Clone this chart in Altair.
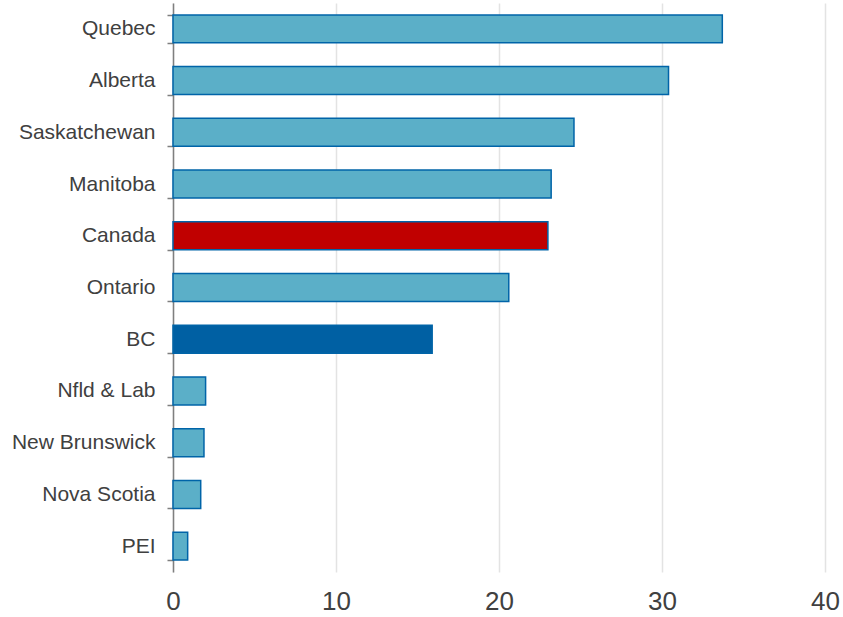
import altair as alt
import pandas as pd

regions = ["Quebec", "Alberta", "Saskatchewan", "Manitoba", "Canada", "Ontario",
           "BC", "Nfld & Lab", "New Brunswick", "Nova Scotia", "PEI"]
values = [33.7, 30.4, 24.6, 23.2, 23.0, 20.6, 15.9, 2.0, 1.9, 1.7, 0.9]
fills = ["#5BAFC8", "#5BAFC8", "#5BAFC8", "#5BAFC8", "#C00000", "#5BAFC8",
         "#0060A3", "#5BAFC8", "#5BAFC8", "#5BAFC8", "#5BAFC8"]
x_ticks = [0, 10, 20, 30, 40]

df = pd.DataFrame({"region": regions, "value": values, "fill": fills})

chart = alt.Chart(df).mark_bar(stroke="#0064A8", strokeWidth=1.5).encode(
    y=alt.Y("region:N", sort=regions, title=None,
            scale=alt.Scale(paddingInner=0.46, paddingOuter=0.23),
            axis=alt.Axis(tickBand="extent", domainColor="#7F7F7F", tickColor="#7F7F7F",
                          domainWidth=1.5, tickWidth=1.5, tickSize=6,
                          labelFont="Liberation Sans", labelFontSize=21,
                          labelColor="#404040", labelPadding=12, grid=False)),
    x=alt.X("value:Q", title=None,
            scale=alt.Scale(domain=[0, 40], nice=False),
            axis=alt.Axis(values=x_ticks, domain=False, ticks=False,
                          grid=True, gridColor="#E3E3E3", gridWidth=1.5,
                          labelFlush=False,
                          labelFont="Liberation Sans", labelFontSize=26,
                          labelColor="#404040", labelPadding=16)),
    fill=alt.Fill("fill:N", scale=None),
).properties(
    width=652, height=569,
    padding={"left": 173, "top": 3, "right": 18, "bottom": 45},
    autosize=alt.AutoSizeParams(type="none"),
).configure_view(stroke=None)

chart.save("out.html", embed_options={"renderer": "svg", "actions": False})
